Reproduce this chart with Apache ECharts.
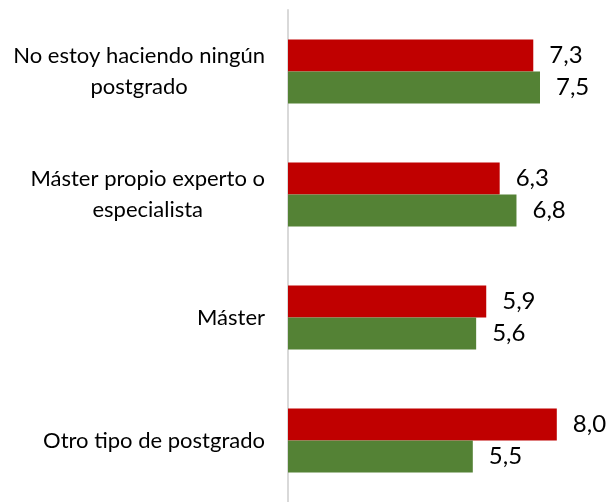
<!DOCTYPE html>
<html>
<head>
<meta charset="utf-8">
<script src="https://cdn.jsdelivr.net/npm/echarts@6/dist/echarts.min.js"></script>
<style>
  html, body { margin: 0; padding: 0; background: #ffffff; }
  #chart { width: 610px; height: 502px; }
</style>
</head>
<body>
<div id="chart"></div>
<script>
// Categories (top to bottom) and the two score series
const categories = [
  'No estoy haciendo ningún\npostgrado',
  'Máster propio experto o\nespecialista',
  'Máster',
  'Otro tipo de postgrado'
];
const redValues = [7.3, 6.3, 5.9, 8.0];
const greenValues = [7.5, 6.8, 5.6, 5.5];

const FONT = 'Lato';

function fmtComma(v) {
  return v.toFixed(1).replace('.', ',');
}

const chart = echarts.init(document.getElementById('chart'), null, { renderer: 'canvas' });

const valueLabel = {
  show: true,
  position: 'right',
  distance: 16,
  fontFamily: FONT,
  fontSize: 24,
  color: '#000000',
  formatter: p => fmtComma(p.value)
};

chart.setOption({
  animation: false,
  backgroundColor: '#ffffff',
  grid: { left: 288, top: 10, height: 500, width: 302.4 },
  xAxis: {
    type: 'value',
    min: 0,
    max: 9,
    show: false,
    splitLine: { show: false }
  },
  yAxis: {
    type: 'category',
    data: categories,
    inverse: true,
    axisTick: { show: false },
    axisLine: { show: true, lineStyle: { color: '#d9d9d9', width: 2 } },
    axisLabel: {
      margin: 23,
      fontFamily: FONT,
      fontSize: 22,
      color: '#000000',
      lineHeight: 31,
      formatter: v => v.split('\n').map(s => '{c|' + s + '}').join('\n'),
      rich: { c: { align: 'center', fontFamily: FONT, fontSize: 22, lineHeight: 31, color: '#000000' } }
    }
  },
  series: [
    {
      type: 'bar',
      data: redValues,
      barWidth: 32,
      barGap: '0%',
      itemStyle: { color: '#c00000' },
      label: valueLabel
    },
    {
      type: 'bar',
      data: greenValues,
      barWidth: 32,
      barGap: '0%',
      itemStyle: { color: '#548235' },
      label: valueLabel
    }
  ]
});
</script>
</body>
</html>
